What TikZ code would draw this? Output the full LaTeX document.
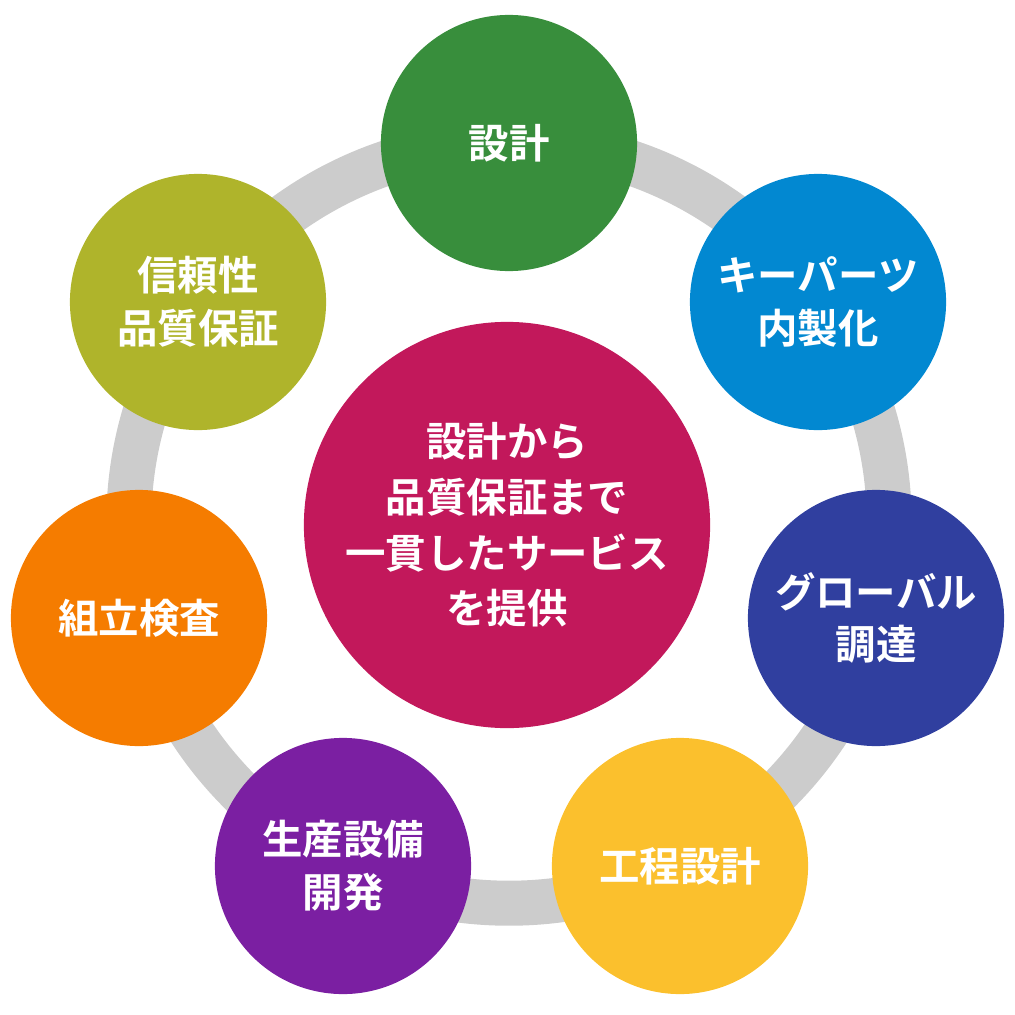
\documentclass[tikz,border=0pt]{standalone}
\usepackage{fontspec}
\setmainfont{Noto Sans CJK JP}[BoldFont={* Bold}]
\definecolor{cg}{HTML}{388E3C}
\definecolor{cb}{HTML}{0288D1}
\definecolor{cn}{HTML}{303F9F}
\definecolor{cy}{HTML}{FBC02D}
\definecolor{cp}{HTML}{7B1FA2}
\definecolor{co}{HTML}{F57C00}
\definecolor{cl}{HTML}{AFB42B}
\definecolor{cm}{HTML}{C2185B}
\definecolor{ring}{HTML}{CCCCCC}
\tikzset{sat/.style={circle,fill=#1,minimum size=2.56cm,inner sep=0pt,text=white,font=\bfseries\fontsize{11.5pt}{15pt}\selectfont,align=center}}
\begin{document}
\begin{tikzpicture}[x=0.01cm,y=-0.01cm]
\useasboundingbox (0,0) rectangle (1015,1015);
\draw[ring,line width=0.45cm] (509,523) circle (3.8cm);
\node[circle,fill=cm,minimum size=4.06cm,inner sep=0pt,text=white,font=\bfseries\fontsize{11.5pt}{15.8pt}\selectfont,align=center] (c) at (507,525) {設計から\\品質保証まで\\一貫したサービス\\を提供};
\node[sat=cg] (a) at (509,143) {設計};
\node[sat=cb] (b) at (818,302) {キーパーツ\\内製化};
\node[sat=cn] (d) at (876,618) {グローバル\\調達};
\node[sat=cy] (e) at (680,866) {工程設計};
\node[sat=cp] (f) at (343,866) {生産設備\\開発};
\node[sat=co] (g) at (139,618) {組立検査};
\node[sat=cl] (h) at (198,302) {信頼性\\品質保証};
\end{tikzpicture}
\end{document}
